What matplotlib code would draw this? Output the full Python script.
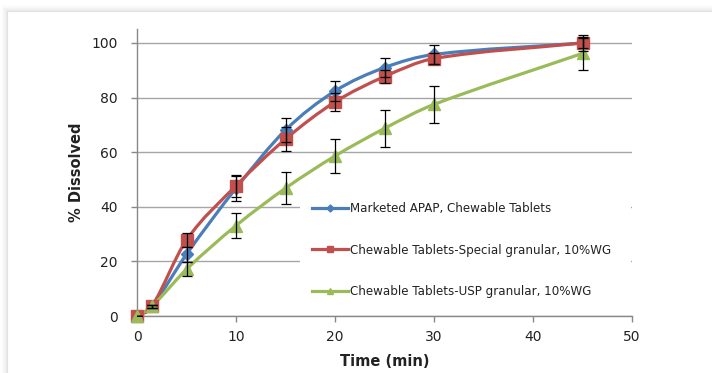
import matplotlib
matplotlib.use("Agg")
import matplotlib.pyplot as plt
from matplotlib.path import Path
from matplotlib.patches import PathPatch, Rectangle
from matplotlib.lines import Line2D
import numpy as np

# ---- data ----
time_min = [0, 1.5, 5, 10, 15, 20, 25, 30, 45]
marketed = [0, 3.5, 22.6, 46.8, 68.1, 82.4, 91.0, 95.8, 100]
marketed_err = [0, 0.5, 2.7, 4.5, 4.5, 3.8, 3.5, 3.6, 3.0]
special = [0, 3.5, 27.8, 47.7, 64.8, 78.4, 87.7, 94.3, 100]
special_err = [0, 0.5, 2.7, 4.0, 4.4, 3.2, 2.5, 2.1, 2.0]
usp = [0, 3.5, 17.1, 33.1, 46.8, 58.6, 68.7, 77.5, 96.2]
usp_err = [0, 0.5, 2.5, 4.5, 5.8, 6.4, 6.7, 6.8, 6.0]
labels = ["Marketed APAP, Chewable Tablets",
          "Chewable Tablets-Special granular, 10%WG",
          "Chewable Tablets-USP granular, 10%WG"]
x_ticks = [0, 10, 20, 30, 40, 50]
y_ticks = [0, 20, 40, 60, 80, 100]

colors = ["#4a7ebb", "#c0504d", "#9bbb59"]
markers = ["D", "s", "^"]
msizes = [6.5, 8.5, 8.5]

W, H = 712, 373
fig = plt.figure(figsize=(W / 100, H / 100), dpi=100)
fig.patch.set_facecolor("white")

# frame with soft shadow
for i, a in enumerate([0.05, 0.035, 0.025, 0.015, 0.01]):
    fig.patches.append(Rectangle(((7 - i * 1.5) / W, -0.2), 1.2, (H - 11 + i * 1.5) / H + 0.2,
                                 transform=fig.transFigure, facecolor="black", alpha=a,
                                 edgecolor="none", zorder=-10))
fig.patches.append(Rectangle((7 / W, -0.2), 1.2, (H - 11) / H + 0.2,
                             transform=fig.transFigure, facecolor="white",
                             edgecolor="#e2e2e2", lw=0.8, zorder=-9))

left, right = 137 / W, 632 / W
bottom = 1 - 316 / H
top = 1 - 29.35 / H
ax = fig.add_axes([left, bottom, right - left, top - bottom])
ax.set_facecolor("none")
ax.set_xlim(0, 50)
ax.set_ylim(0, 105)


def smooth_path(x, y):
    x = np.asarray(x, float)
    y = np.asarray(y, float)
    n = len(x)
    m = np.zeros(n)
    for i in range(n):
        if i == 0:
            m[i] = (y[1] - y[0]) / (x[1] - x[0])
        elif i == n - 1:
            m[i] = (y[-1] - y[-2]) / (x[-1] - x[-2])
        else:
            m[i] = (y[i + 1] - y[i - 1]) / (x[i + 1] - x[i - 1])
    verts = [(x[0], y[0])]
    codes = [Path.MOVETO]
    for i in range(n - 1):
        h = x[i + 1] - x[i]
        verts += [(x[i] + h / 3, y[i] + m[i] * h / 3),
                  (x[i + 1] - h / 3, y[i + 1] - m[i + 1] * h / 3),
                  (x[i + 1], y[i + 1])]
        codes += [Path.CURVE4] * 3
    return Path(verts, codes)


series = [marketed, special, usp]
errs = [marketed_err, special_err, usp_err]
handles = []
for s, e, c, m, ms, lab in zip(series, errs, colors, markers, msizes, labels):
    ax.add_patch(PathPatch(smooth_path(time_min, s), facecolor="none", edgecolor=c,
                           lw=2.3, zorder=3, capstyle="round"))
    ax.plot(time_min, s, ls="none", marker=m, ms=ms, color=c, mec=c, zorder=4, clip_on=False)
    ax.errorbar(time_min, s, yerr=e, fmt="none", ecolor="black", elinewidth=0.9,
                capsize=3.5, capthick=0.9, zorder=5)
    handles.append(Line2D([], [], color=c, lw=2.3, marker=m, ms=ms * 0.55, mec=c))

ax.set_xticks(x_ticks)
ax.set_yticks(y_ticks)
ax.yaxis.grid(True, color="#a6a6a6", lw=1.0)
ax.set_axisbelow(True)
for sp in ["top", "right"]:
    ax.spines[sp].set_visible(False)
for sp in ["left", "bottom"]:
    ax.spines[sp].set_color("#888888")
    ax.spines[sp].set_linewidth(1.0)
ax.tick_params(axis="both", colors="#888888", labelcolor="#222222", labelsize=10,
               length=4, width=1.0, direction="out")
ax.tick_params(axis="x", pad=6)
ax.tick_params(axis="y", pad=10)

ax.set_xlabel("Time (min)", fontsize=10.5, fontweight="bold", color="#222222", labelpad=7)
ax.set_ylabel("% Dissolved", fontsize=10.5, fontweight="bold", color="#222222", labelpad=5)

leg = ax.legend(handles, labels, loc="upper left",
                bbox_to_anchor=(300 / W, 1 - 190 / H, (631 - 300) / W, 0),
                bbox_transform=fig.transFigure, mode="expand",
                fontsize=8.6, frameon=True, fancybox=False, framealpha=1.0,
                handlelength=3.0, handletextpad=0.15, labelspacing=2.4,
                borderpad=1.0, borderaxespad=0)
leg.get_frame().set_facecolor("white")
leg.get_frame().set_edgecolor("none")
for t in leg.get_texts():
    t.set_color("#222222")

fig.savefig("out.png", dpi=100)
